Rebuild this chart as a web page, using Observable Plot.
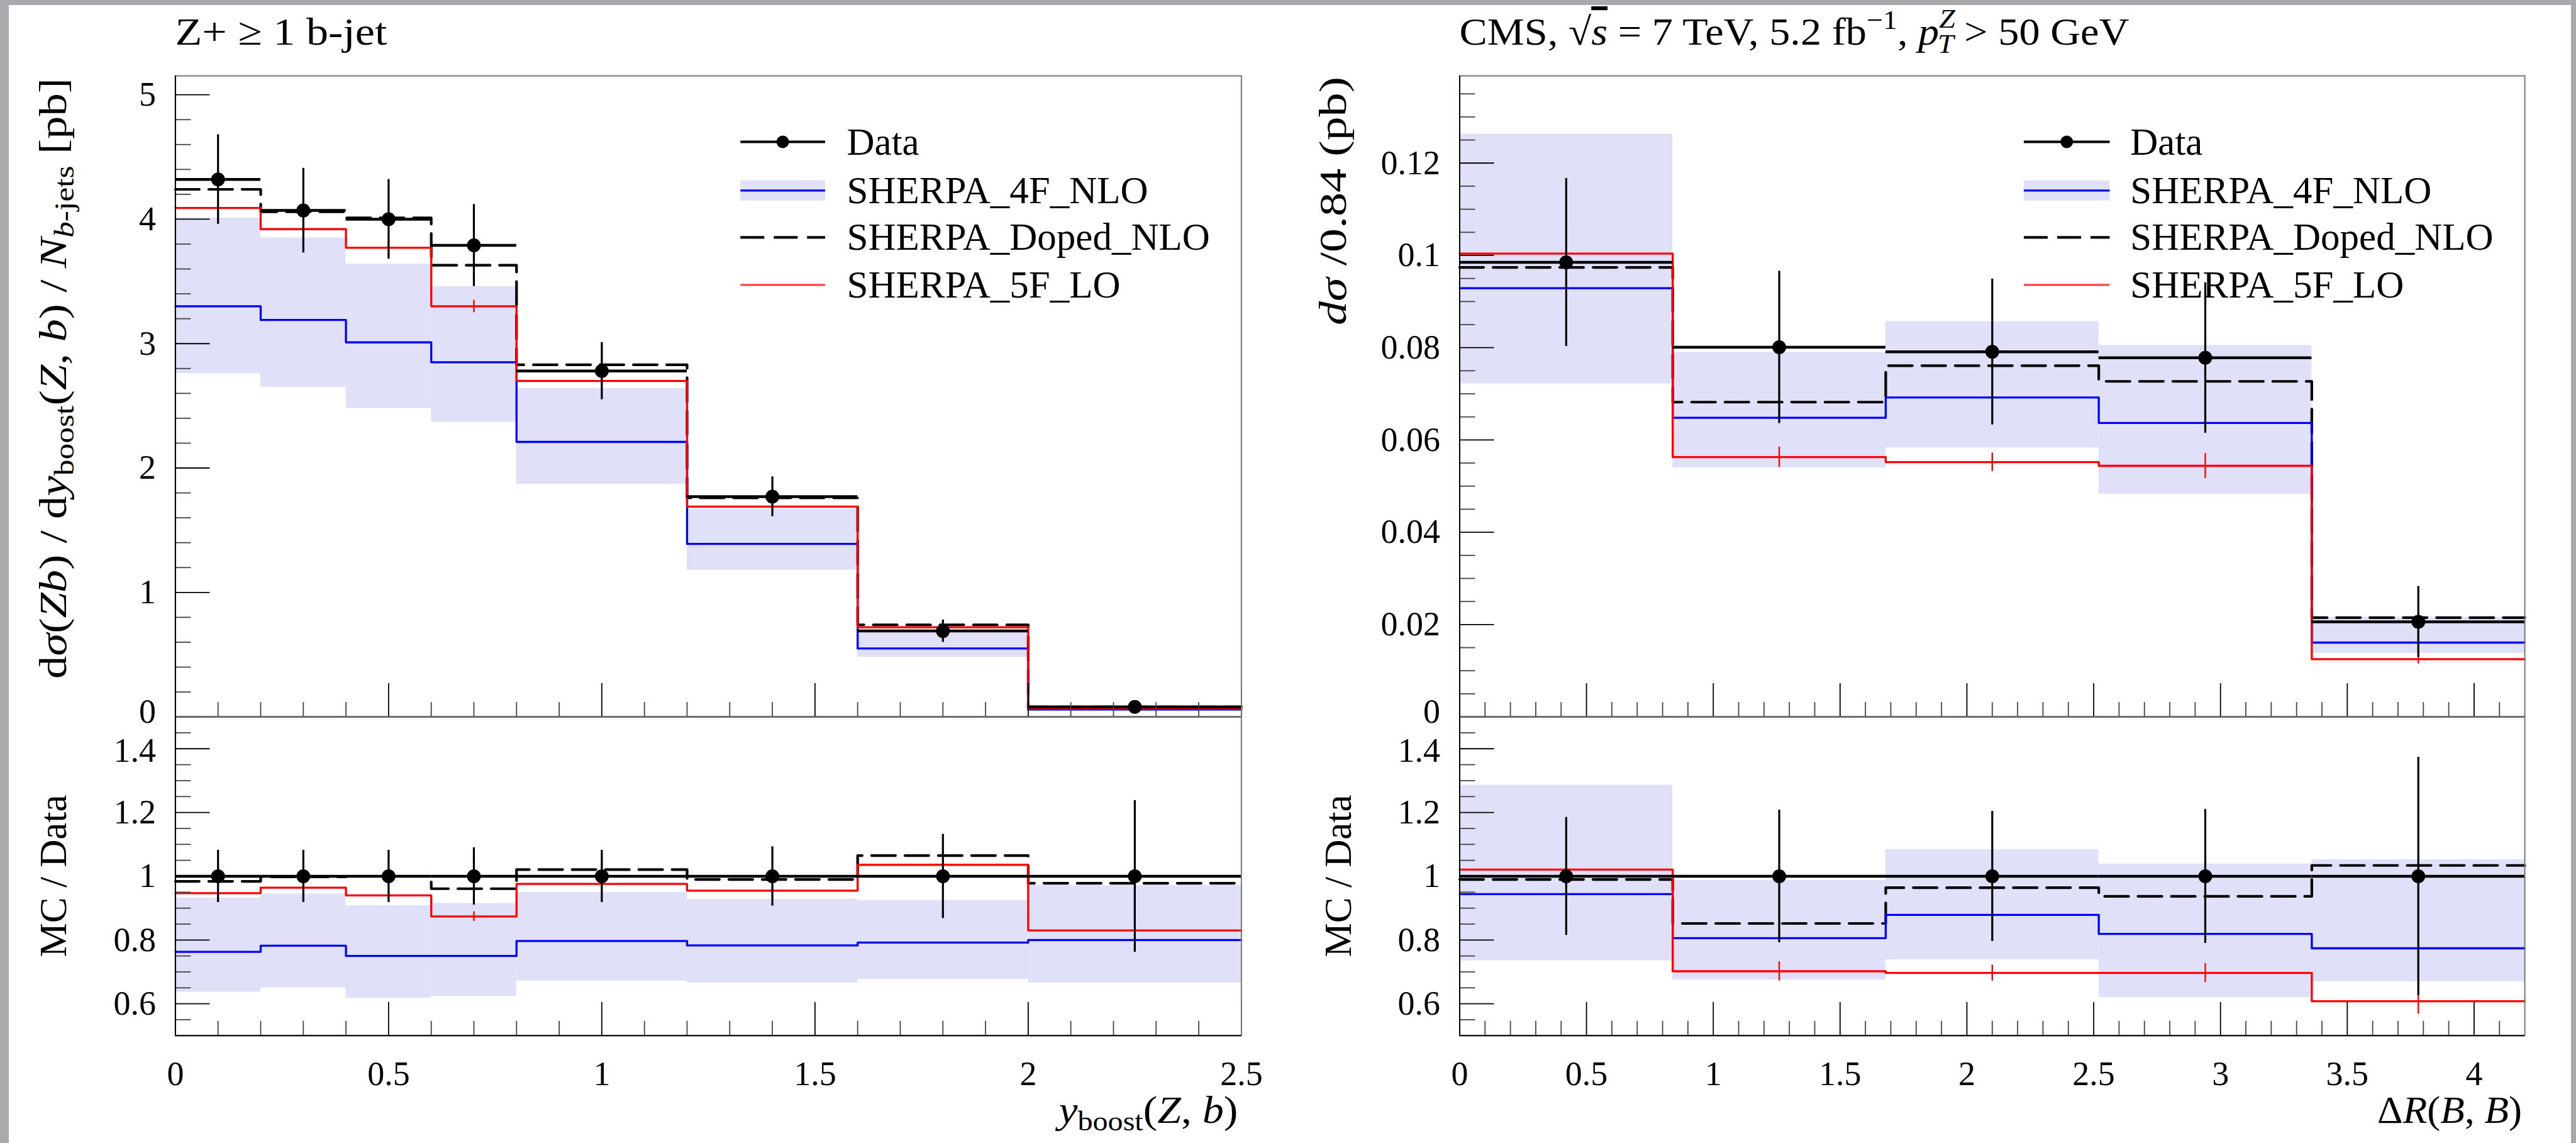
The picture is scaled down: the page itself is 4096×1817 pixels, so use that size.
<!DOCTYPE html>
<html><head><meta charset="utf-8">
<script src="https://cdn.jsdelivr.net/npm/d3@7"></script>
<script src="https://cdn.jsdelivr.net/npm/@observablehq/plot@0.6"></script>
<style>
html,body{margin:0;padding:0;background:#a9aaad;width:4096px;height:1817px;overflow:hidden}
#page{position:absolute;left:14px;top:8px;width:4074px;height:1809px;background:#fff}
#root{position:absolute;left:0;top:0;width:4096px;height:1817px}
</style></head><body>
<div id="page"></div>
<div id="root"></div>
<script>
// ---------------- data ----------------
const leftEdges = [0, 0.2, 0.4, 0.6, 0.8, 1.2, 1.6, 2.0, 2.5];
const leftData = [4.32, 4.07, 4.00, 3.79, 2.78, 1.77, 0.69, 0.08];
const leftDataErr = [0.36, 0.34, 0.32, 0.33, 0.23, 0.16, 0.09, 0.02];
const left4F = [3.30, 3.19, 3.01, 2.85, 2.21, 1.39, 0.55, 0.06];
const left4FLow = [2.76, 2.65, 2.48, 2.37, 1.87, 1.18, 0.48, 0.05];
const left4FHigh = [4.01, 3.85, 3.64, 3.46, 2.64, 1.67, 0.70, 0.07];
const leftDoped = [4.24, 4.06, 4.01, 3.63, 2.83, 1.76, 0.74, 0.08];
const left5F = [4.09, 3.92, 3.77, 3.30, 2.70, 1.69, 0.72, 0.07];
const left5FErr = [0.06, 0.06, 0.06, 0.05, 0.04, 0.03, 0.02, 0.005];

const leftRatioData = [1, 1, 1, 1, 1, 1, 1, 1];
const leftRatioDataErr = [0.082, 0.082, 0.082, 0.09, 0.082, 0.093, 0.132, 0.238];
const leftRatio4F = [0.763, 0.782, 0.75, 0.75, 0.797, 0.783, 0.792, 0.80];
const leftRatio4FLow = [0.637, 0.65, 0.618, 0.624, 0.672, 0.666, 0.677, 0.666];
const leftRatio4FHigh = [0.932, 0.945, 0.908, 0.915, 0.95, 0.928, 0.925, 0.971];
const leftRatioDoped = [0.984, 0.998, 1.0, 0.961, 1.021, 0.99, 1.065, 0.978];
const leftRatio5F = [0.947, 0.964, 0.94, 0.874, 0.976, 0.955, 1.036, 0.83];
const leftRatio5FErr = [0.015, 0.015, 0.015, 0.015, 0.015, 0.015, 0.02, 0.04];

const rightEdges = [0, 0.84, 1.68, 2.52, 3.36, 4.2];
const rightData = [0.0985, 0.0801, 0.0791, 0.0778, 0.0206];
const rightDataErr = [0.0182, 0.0165, 0.0158, 0.0163, 0.0077];
const right4F = [0.0929, 0.0648, 0.0692, 0.0637, 0.0161];
const right4FLow = [0.0722, 0.0540, 0.0583, 0.0483, 0.0138];
const right4FHigh = [0.1263, 0.0790, 0.0857, 0.0805, 0.0216];
const rightDoped = [0.0974, 0.0682, 0.0761, 0.0727, 0.0215];
const right5F = [0.1004, 0.0563, 0.0552, 0.0544, 0.0125];
const right5FErr = [0.0043, 0.0022, 0.0020, 0.0027, 0.0010];

const rightRatioData = [1, 1, 1, 1, 1];
const rightRatioDataErr = [0.185, 0.208, 0.204, 0.21, 0.374];
const rightRatio4F = [0.944, 0.806, 0.879, 0.819, 0.774];
const rightRatio4FLow = [0.735, 0.675, 0.738, 0.62, 0.67];
const rightRatio4FHigh = [1.286, 0.987, 1.084, 1.039, 1.052];
const rightRatioDoped = [0.99, 0.852, 0.964, 0.937, 1.034];
const rightRatio5F = [1.021, 0.702, 0.697, 0.697, 0.608];
const rightRatio5FErr = [0.04, 0.03, 0.025, 0.03, 0.04];

// tick labels
const leftTopYTicks = [0, 1, 2, 3, 4, 5];
const rightTopYTicks = [0, 0.02, 0.04, 0.06, 0.08, 0.1, 0.12];
const ratioYTicks = [0.6, 0.8, 1, 1.2, 1.4];
const leftXTicks = [0, 0.5, 1, 1.5, 2, 2.5];
const rightXTicks = [0, 0.5, 1, 1.5, 2, 2.5, 3, 3.5, 4];

const legendLabels = ["Data", "SHERPA_4F_NLO", "SHERPA_Doped_NLO", "SHERPA_5F_LO"];

// ---------------- layout ----------------
const S = 4096 / 4502;
const W = 4096, H = 1817;
const LX = [306 * S, 2169 * S];
const RX = [2550.5 * S, 4412 * S];
const YT = [132 * S, 1252 * S];
const YB = [1252 * S, 1809 * S];
const FONT = '"Liberation Serif", "Times New Roman", serif';
const BAND = "#e0e0f8";
const DASH = "38,15";
const TICKFONT = 54;

function minor(lo, hi, step, majors) {
  const n = Math.round((hi - lo) / step);
  return d3.range(n + 1).map(i => +(lo + i * step).toFixed(6))
    .filter(v => v > lo + 1e-9 && v < hi - 1e-9 && !majors.some(m => Math.abs(m - v) < 1e-9));
}
function steps(edges, v) {
  const pts = v.map((y, i) => ({x: edges[i], y}));
  pts.push({x: edges[edges.length - 1], y: v[v.length - 1]});
  return pts;
}
const fmt = d => String(d);

function panel(cfg) {
  const [x0, x1] = cfg.fx, [y0, y1] = cfg.fy;
  const fw = x1 - x0, fh = y1 - y0;
  const e = cfg.edges;
  const rows = cfg.data.map((d, i) => ({
    a: e[i], b: e[i + 1], c: (e[i] + e[i + 1]) / 2,
    d, err: cfg.err[i], lo: cfg.lo[i], hi: cfg.hi[i], f5: cfg.f5[i], f5e: cfg.f5e[i]
  }));
  const axisOpts = {tickSize: 0, tickPadding: 31, fontSize: TICKFONT, fontFamily: FONT, tickFormat: fmt, label: null};
  const marks = [
    Plot.rect(rows, {x1: "a", x2: "b", y1: "lo", y2: "hi", fill: BAND}),
    Plot.line(steps(e, cfg.doped), {x: "x", y: "y", curve: "step-after", stroke: "#000", strokeWidth: 4.2, strokeDasharray: DASH}),
    Plot.line(steps(e, cfg.f4), {x: "x", y: "y", curve: "step-after", stroke: "#0000ff", strokeWidth: 3.3}),
    Plot.line(steps(e, cfg.f5), {x: "x", y: "y", curve: "step-after", stroke: "#ff0000", strokeWidth: 3.3}),
    Plot.ruleX(rows, {x: "c", y1: d => d.f5 - d.f5e, y2: d => d.f5 + d.f5e, stroke: "#ff0000", strokeWidth: 2.4}),
    Plot.ruleY(rows, {y: "d", x1: "a", x2: "b", stroke: "#000", strokeWidth: 4.5}),
    Plot.ruleX(rows, {x: "c", y1: d => d.d - d.err, y2: d => d.d + d.err, stroke: "#000", strokeWidth: 3.2}),
    Plot.dot(rows, {x: "c", y: "d", r: 11, fill: "#000", stroke: "none"}),
    Plot.tickY(cfg.yMinor, {y: d => d, insetRight: fw - 25, stroke: "#444", strokeWidth: 1.8}),
    Plot.tickY(cfg.yMajor, {y: d => d, insetRight: fw - 55, stroke: "#000", strokeWidth: 1.8}),
    Plot.tickX(cfg.xMinor, {x: d => d, insetTop: fh - 23, stroke: "#444", strokeWidth: 1.8}),
    Plot.tickX(cfg.xMajor, {x: d => d, insetTop: fh - 53, stroke: "#000", strokeWidth: 1.8}),
    Plot.frame({stroke: "#777", strokeWidth: 2}),
    Plot.ruleX([cfg.xDomain[0]], {stroke: "#000", strokeWidth: 2}),
    Plot.ruleY([cfg.yDomain[0]], {stroke: "#000", strokeWidth: 2}),
    Plot.axisY({...axisOpts, ticks: cfg.yMajor.filter(v => v !== cfg.nudge.v)}),
    Plot.axisY({...axisOpts, ticks: [cfg.nudge.v], dy: cfg.nudge.dy})
  ];
  if (cfg.xLabels) marks.push(Plot.axisX({...axisOpts, ticks: cfg.xMajor, tickPadding: 40}));
  const svg = Plot.plot({
    width: W, height: H,
    marginLeft: x0, marginRight: W - x1, marginTop: y0, marginBottom: H - y1,
    x: {domain: cfg.xDomain, axis: null},
    y: {domain: cfg.yDomain, axis: null},
    marks
  });
  svg.style.position = "absolute";
  svg.style.left = "0px";
  svg.style.top = "0px";
  svg.style.background = "transparent";
  svg.style.fontFamily = FONT;
  svg.style.maxWidth = "none";
  svg.style.overflow = "visible";
  svg.style.color = "#000";
  document.getElementById("root").appendChild(svg);
}

const leftXMinor = minor(0, 2.5, 0.1, leftXTicks);
const rightXMinor = minor(0, 4.2, 0.1, rightXTicks);

panel({fx: LX, fy: YT, edges: leftEdges, xDomain: [0, 2.5], yDomain: [0, 5.152],
  data: leftData, err: leftDataErr, f4: left4F, lo: left4FLow, hi: left4FHigh, doped: leftDoped, f5: left5F, f5e: left5FErr,
  yMajor: leftTopYTicks, yMinor: minor(0, 5.152, 0.2, leftTopYTicks), xMajor: leftXTicks, xMinor: leftXMinor, xLabels: false,
  nudge: {v: 0, dy: -8}});
panel({fx: LX, fy: YB, edges: leftEdges, xDomain: [0, 2.5], yDomain: [0.5, 1.5],
  data: leftRatioData, err: leftRatioDataErr, f4: leftRatio4F, lo: leftRatio4FLow, hi: leftRatio4FHigh, doped: leftRatioDoped, f5: leftRatio5F, f5e: leftRatio5FErr,
  yMajor: ratioYTicks, yMinor: minor(0.5, 1.5, 0.05, ratioYTicks), xMajor: leftXTicks, xMinor: leftXMinor, xLabels: true,
  nudge: {v: 1.4, dy: 3}});
panel({fx: RX, fy: YT, edges: rightEdges, xDomain: [0, 4.2], yDomain: [0, 0.1389],
  data: rightData, err: rightDataErr, f4: right4F, lo: right4FLow, hi: right4FHigh, doped: rightDoped, f5: right5F, f5e: right5FErr,
  yMajor: rightTopYTicks, yMinor: minor(0, 0.1389, 0.005, rightTopYTicks), xMajor: rightXTicks, xMinor: rightXMinor, xLabels: false,
  nudge: {v: 0, dy: -8}});
panel({fx: RX, fy: YB, edges: rightEdges, xDomain: [0, 4.2], yDomain: [0.5, 1.5],
  data: rightRatioData, err: rightRatioDataErr, f4: rightRatio4F, lo: rightRatio4FLow, hi: rightRatio4FHigh, doped: rightRatioDoped, f5: rightRatio5F, f5e: rightRatio5FErr,
  yMajor: ratioYTicks, yMinor: minor(0.5, 1.5, 0.05, ratioYTicks), xMajor: rightXTicks, xMinor: rightXMinor, xLabels: true,
  nudge: {v: 1.4, dy: 3}});

// ---------------- text overlay: titles, axis labels, legends ----------------
const ov = document.createElementNS("http://www.w3.org/2000/svg", "svg");
ov.setAttribute("width", W); ov.setAttribute("height", H);
ov.setAttribute("font-family", FONT);
ov.style.position = "absolute"; ov.style.left = "0px"; ov.style.top = "0px";
const it = t => `<tspan font-style="italic">${t}</tspan>`;
const LA = 'lengthAdjust="spacingAndGlyphs"';
let h = "";
h += `<text x="${LX[0]}" y="71" font-size="62" textLength="337" ${LA}>Z+ ≥ 1 b-jet</text>`;
h += `<text x="${RX[0]}" y="71" font-size="62" textLength="1065" ${LA}>CMS, √<tspan font-style="italic" style="text-decoration:overline">s</tspan> = 7 TeV, 5.2 fb<tspan font-size="43" dy="-25">−1</tspan><tspan dy="25">, </tspan>${it("p")}<tspan font-style="italic" font-size="43" dy="-27">Z</tspan><tspan font-style="italic" font-size="43" dx="-26" dy="40">T</tspan><tspan dy="-13"> &gt; 50 GeV</tspan></text>`;
// y labels
h += `<text transform="translate(105,124) rotate(-90)" text-anchor="end" font-size="62" textLength="955" ${LA}>d${it("σ")}(${it("Zb")}) / d${it("y")}<tspan font-size="44" dy="12">boost</tspan><tspan dy="-12">(</tspan>${it("Z")}, ${it("b")}) / ${it("N")}<tspan font-size="44" dy="12" font-style="italic">b</tspan><tspan font-size="44">-jets</tspan><tspan dy="-12"> [pb]</tspan></text>`;
h += `<text transform="translate(2140,122) rotate(-90)" text-anchor="end" font-size="62" textLength="395" ${LA}>${it("dσ")} /0.84 (pb)</text>`;
const midB = (YB[0] + YB[1]) / 2;
h += `<text transform="translate(105,${midB}) rotate(-90)" text-anchor="middle" font-size="62" textLength="258" ${LA}>MC / Data</text>`;
h += `<text transform="translate(2148,${midB}) rotate(-90)" text-anchor="middle" font-size="62" textLength="258" ${LA}>MC / Data</text>`;
// x labels
h += `<text x="${LX[1] - 5}" y="1785" text-anchor="end" font-size="62" textLength="285" ${LA}>${it("y")}<tspan font-size="44" dy="12">boost</tspan><tspan dy="-12">(</tspan>${it("Z")}, ${it("b")})</text>`;
h += `<text x="${RX[1] - 4}" y="1785" text-anchor="end" font-size="62" textLength="230" ${LA}>Δ${it("R")}(${it("B")}, ${it("B")})</text>`;
// legends
const rowY = [225.5, 302.8, 377.4, 452.9];
function legend(sx0, sx1, tx) {
  const mx = (sx0 + sx1) / 2;
  legendLabels.forEach((lab, i) => {
    const cy = rowY[i];
    if (i === 0) {
      h += `<line x1="${sx0}" x2="${sx1}" y1="${cy}" y2="${cy}" stroke="#000" stroke-width="4"/>`;
      h += `<circle cx="${mx}" cy="${cy}" r="10" fill="#000"/>`;
    } else if (i === 1) {
      h += `<rect x="${sx0}" y="${cy - 16}" width="${sx1 - sx0}" height="32" fill="${BAND}"/>`;
      h += `<line x1="${sx0}" x2="${sx1}" y1="${cy}" y2="${cy}" stroke="#0000ff" stroke-width="3.3"/>`;
    } else if (i === 2) {
      h += `<line x1="${sx0}" x2="${sx1}" y1="${cy}" y2="${cy}" stroke="#000" stroke-width="4.2" stroke-dasharray="${DASH}"/>`;
    } else {
      h += `<line x1="${sx0}" x2="${sx1}" y1="${cy}" y2="${cy}" stroke="#ff4444" stroke-width="3.3"/>`;
    }
    h += `<text x="${tx}" y="${cy + 20}" font-size="61">${lab}</text>`;
  });
}
legend(1294 * S, 1442 * S, 1480 * S);
legend(3537 * S, 3687 * S, 3723 * S);
ov.innerHTML = h;
document.getElementById("root").appendChild(ov);
</script></body></html>
